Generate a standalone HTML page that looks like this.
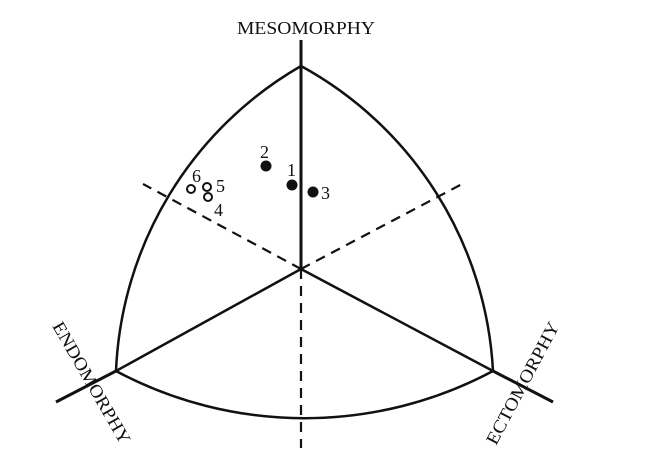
<!DOCTYPE html>
<html><head><style>body{margin:0;background:#fff}svg{display:block}</style></head><body>
<svg width="645" height="457" viewBox="0 0 645 457" xmlns="http://www.w3.org/2000/svg" font-family="Liberation Serif, serif" fill="#111">
<g stroke="#111" fill="none" stroke-width="2.5">
<path d="M301,66 A370,370 0 0 0 116,371"/>
<path d="M301,66 A370,370 0 0 1 493,371"/>
<path d="M116,371 A400,400 0 0 0 493,371"/>
<line x1="301" y1="40" x2="301" y2="269" stroke-width="3"/>
<line x1="116" y1="371" x2="301" y2="269"/>
<line x1="493" y1="371" x2="301" y2="269"/>
<line x1="116" y1="371" x2="56" y2="402" stroke-width="3"/>
<line x1="493" y1="371" x2="553" y2="402" stroke-width="3"/>
<g stroke-dasharray="10,7" stroke-width="2.2">
<line x1="301" y1="269" x2="301" y2="448"/>
<line x1="301" y1="269" x2="143" y2="184"/>
<line x1="301" y1="269" x2="464" y2="183"/>
</g>
</g>
<text x="306" y="34" font-size="18" text-anchor="middle" textLength="138" lengthAdjust="spacingAndGlyphs">MESOMORPHY</text>
<text transform="translate(52,326) rotate(60)" font-size="18" textLength="138" lengthAdjust="spacingAndGlyphs">ENDOMORPHY</text>
<text transform="translate(496,446) rotate(-62)" font-size="18" textLength="136" lengthAdjust="spacingAndGlyphs">ECTOMORPHY</text>
<circle cx="266" cy="166" r="5.5"/>
<circle cx="292" cy="185" r="5.5"/>
<circle cx="313" cy="192" r="5.5"/>
<g fill="#fff" stroke="#111" stroke-width="2">
<circle cx="191" cy="189" r="4"/>
<circle cx="207" cy="187" r="4"/>
<circle cx="208" cy="197" r="4"/>
</g>
<g font-size="18">
<text x="260" y="158">2</text>
<text x="287" y="176">1</text>
<text x="321" y="199">3</text>
<text x="192" y="182">6</text>
<text x="216" y="192">5</text>
<text x="214" y="216">4</text>
</g>
</svg>
</body></html>
